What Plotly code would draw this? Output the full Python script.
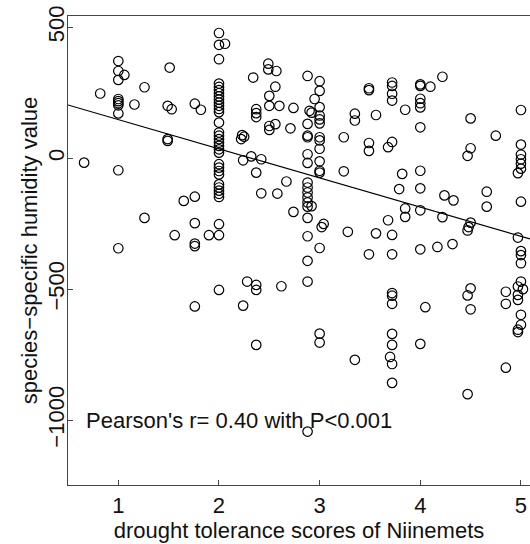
import plotly.graph_objects as go

# drought tolerance scores (x) and species-specific humidity values (y)
drought_scores = (
    [0.66, 0.82]
    + [1.0, 1.0, 1.06, 1.0, 1.0, 1.0, 1.0, 1.0, 1.0, 1.0, 1.0]
    + [1.16, 1.26, 1.26, 1.49, 1.53, 1.51, 1.49, 1.49, 1.56, 1.65]
    + [1.76, 1.82, 1.76, 1.76, 1.76, 1.76, 1.76, 1.90]
    + [2.0] * 33
    + [2.06, 2.22, 2.23, 2.25, 2.24, 2.32, 2.42, 2.37, 2.42]
    + [2.28, 2.37, 2.37, 2.24, 2.37, 2.34, 2.37, 2.37, 2.37]
    + [2.49, 2.49, 2.57, 2.56, 2.50, 2.50, 2.60, 2.74, 2.50, 2.50, 2.56, 2.71]
    + [2.67, 2.58, 2.74, 2.62]
    + [2.88] * 17
    + [2.90, 2.92, 2.92, 2.95]
    + [3.0] * 15
    + [3.02, 3.04, 3.24, 3.24, 3.28, 3.35, 3.35, 3.35]
    + [3.49, 3.49, 3.49, 3.49, 3.49, 3.56, 3.56, 3.68, 3.68, 3.70]
    + [3.72] * 14
    + [3.79, 3.82, 3.85, 3.85, 3.85]
    + [4.0] * 11
    + [4.05, 4.10, 4.17, 4.22, 4.22, 4.24, 4.33, 4.32]
    + [4.47, 4.50, 4.50, 4.50, 4.48, 4.47, 4.50, 4.47, 4.50, 4.47]
    + [4.66, 4.66, 4.75, 4.85, 4.85, 4.85]
    + [5.0] * 13
    + [4.97, 4.97, 4.97, 4.97, 4.97, 4.97, 4.97, 5.02]
)

humidity_values = (
    [-17, 247]
    + [371, 333, 318, 299, 226, 218, 210, 202, 171, -46, -344]
    + [205, 271, -228, 200, 187, 346, 73, 66, -294, -163]
    + [208, 185, -147, -248, -326, -336, -566, -294]
    + [478, 433, 378, 285, 272, 260, 248, 236, 224, 212, 200, 188, 176, 136,
       98, 86, 73, 60, 47, 34, 21, -23, -36, -49, -62, -100, -112, -124, -136,
       -148, -252, -294, -503]
    + [437, 73, 88, 82, -8, 7, -4, -55, -134]
    + [-471, -484, -503, -563, -713, 308, 187, 172, 157]
    + [361, 339, 333, 273, 238, 200, 200, 192, 123, 108, 130, 114]
    + [-89, -135, -205, -489]
    + [314, 131, 86, 80, 15, -18, -93, -112, -131, -150, -169, -185, -228,
       -298, -392, -471, -1044]
    + [181, 174, -183, 226]
    + [294, 257, 195, 163, 148, 133, 80, 68, 36, -12, -48, -55, -343, -670, -704]
    + [-263, -251, 80, -50, -281, 170, 144, -770]
    + [267, 260, 58, 28, -367, 165, -287, 42, -237, -759]
    + [289, 276, 246, 220, 62, -293, -367, -515, -525, -556, -671, -713, -786, -858]
    + [-118, -60, 185, -192, -224]
    + [282, 276, 227, 210, 194, 118, -48, -115, -199, -348, -709]
    + [-569, 273, -339, 311, -225, -142, -161, -328]
    + [9, 152, 38, -246, -263, -276, -497, -524, -577, -901]
    + [-128, -185, 86, -510, -556, -800]
    + [184, 52, 14, -4, -21, -40, -166, -355, -370, -401, -471, -598, -636]
    + [-57, -303, -490, -522, -541, -655, -664, -500]
)

# regression line
fit_intercept = 259
fit_slope = -111.5
x_range = [0.5, 5.09]
y_range = [-1248, 543]
x_ticks = [1, 2, 3, 4, 5]
y_ticks = [-1000, -500, 0, 500]
y_tick_labels = ["\u22121000", "\u2212500", "0", "500"]
annotation_text = "Pearson's r= 0.40 with P<0.001"

fit_y = [fit_intercept + fit_slope * v for v in x_range]

FONT = "Liberation Sans, Arial, sans-serif"

fig = go.Figure()
fig.add_trace(go.Scatter(
    x=drought_scores, y=humidity_values, mode="markers",
    marker=dict(symbol="circle-open", size=9.5, color="black",
                line=dict(width=1.2, color="black")),
    showlegend=False, hoverinfo="skip", cliponaxis=False,
))
fig.add_trace(go.Scatter(
    x=x_range, y=fit_y, mode="lines",
    line=dict(color="black", width=1.2), showlegend=False,
))

fig.add_annotation(
    x=0.66, y=-1000, text=annotation_text, showarrow=False,
    xanchor="left", yanchor="middle",
    font=dict(family=FONT, size=22, color="#111"),
)

axis_common = dict(
    showgrid=False, zeroline=False, showline=True, linecolor="#444",
    linewidth=1.3, ticks="inside", ticklen=5, tickwidth=1.2, tickcolor="#444",
    tickfont=dict(family=FONT, size=22, color="#111"),
)

fig.update_layout(
    width=530, height=544,
    margin=dict(l=68, r=0, t=16, b=59),
    plot_bgcolor="white", paper_bgcolor="white",
    xaxis=dict(range=x_range, tickvals=x_ticks, mirror=True,
               title=dict(text="drought tolerance scores of Niinemets",
                          font=dict(family=FONT, size=22, color="#111"),
                          standoff=4),
               **axis_common),
    yaxis=dict(range=y_range, tickvals=y_ticks, tickangle=-90,
               ticktext=y_tick_labels, ticklabelstandoff=-6,
               title=dict(text="species\u2212specific humidity value",
                          font=dict(family=FONT, size=22, color="#111"),
                          standoff=0),
               **axis_common),
)

fig.write_html("out.html", config={"displayModeBar": False},
               post_script="document.body.style.margin='0';")
